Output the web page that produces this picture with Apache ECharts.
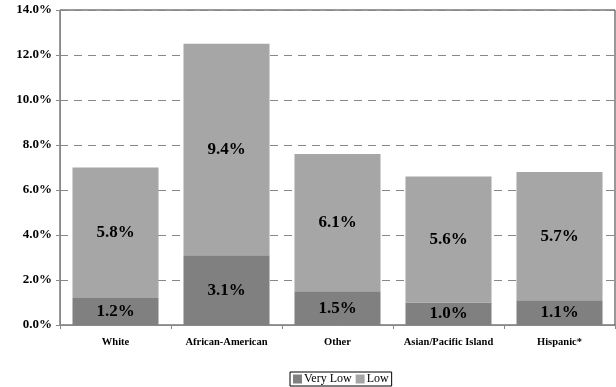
<!DOCTYPE html>
<html>
<head>
<meta charset="utf-8">
<script src="https://cdn.jsdelivr.net/npm/echarts@6/dist/echarts.min.js"></script>
<style>
  html, body { margin: 0; padding: 0; background: #fff; }
  #chart { width: 616px; height: 387px; }
</style>
</head>
<body>
<div id="chart"></div>
<script>
// data
const categories = ['White', 'African-American', 'Other', 'Asian/Pacific Island', 'Hispanic*']
const veryLow = [1.2, 3.1, 1.5, 1.0, 1.1]
const low = [5.8, 9.4, 6.1, 5.6, 5.7]

const font = '"Liberation Serif", "Times New Roman", serif'

let myChart = echarts.init(document.getElementById('chart'))
let option = {
  animation: false,
  textStyle: { fontFamily: font },
  grid: {
    left: 60,
    right: 1,
    top: 10,
    bottom: 62,
    show: true,
    borderColor: '#333',
    borderWidth: 1
  },
  legend: {
    bottom: 1,
    left: 290,
    data: ['Very Low', 'Low'],
    icon: 'rect',
    itemWidth: 9,
    itemHeight: 9,
    itemGap: 4,
    padding: [1, 3, 1, 3],
    borderColor: '#000',
    borderWidth: 1,
    textStyle: { fontFamily: font, fontSize: 12, color: '#000', padding: [0, 0, 0, -3] }
  },
  xAxis: {
    type: 'category',
    data: categories,
    axisLine: { lineStyle: { color: '#888' } },
    axisTick: { show: true, interval: 0, lineStyle: { color: '#888' }, length: 4 },
    axisLabel: { interval: 0, fontFamily: font, fontWeight: 'bold', fontSize: 10.5, color: '#000', margin: 12 }
  },
  yAxis: {
    type: 'value',
    min: 0,
    max: 14,
    interval: 2,
    axisLine: { show: true, lineStyle: { color: '#888' } },
    axisTick: { show: true, inside: false, length: 4, lineStyle: { color: '#888' } },
    splitLine: { lineStyle: { color: '#888', type: [8, 6] } },
    axisLabel: {
      fontFamily: font,
      fontWeight: 'bold',
      fontSize: 13,
      color: '#000',
      margin: 8,
      formatter: v => v.toFixed(1) + '%'
    }
  },
  series: [
    {
      name: 'Very Low',
      type: 'bar',
      stack: 'total',
      barCategoryGap: '22.5%',
      data: veryLow,
      itemStyle: { color: '#808080' },
      label: {
        show: true,
        position: 'inside',
        fontFamily: font,
        fontWeight: 'bold',
        fontSize: 17,
        color: '#000',
        formatter: p => p.value.toFixed(1) + '%'
      }
    },
    {
      name: 'Low',
      type: 'bar',
      stack: 'total',
      data: low,
      itemStyle: { color: '#a6a6a6' },
      label: {
        show: true,
        position: 'inside',
        fontFamily: font,
        fontWeight: 'bold',
        fontSize: 17,
        color: '#000',
        formatter: p => p.value.toFixed(1) + '%'
      }
    }
  ]
}
myChart.setOption(option)
</script>
</body>
</html>
